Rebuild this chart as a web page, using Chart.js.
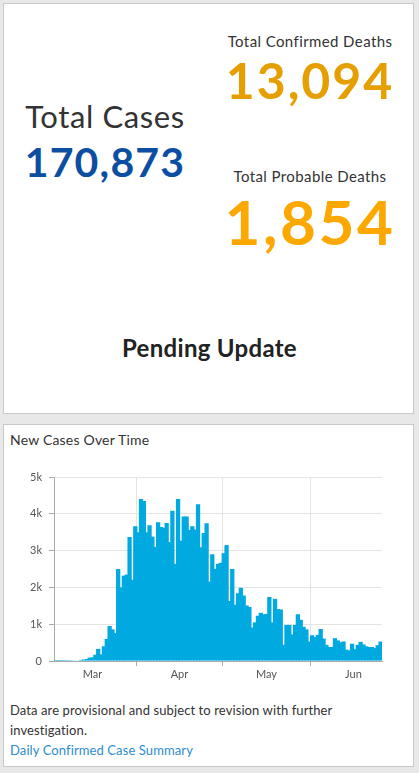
<!DOCTYPE html>
<html>
<head>
<meta charset="utf-8">
<script src="https://cdn.jsdelivr.net/npm/chart.js@4.4.0/dist/chart.umd.min.js"></script>
<style>
  html, body { margin: 0; padding: 0; }
  body {
    width: 419px; height: 773px; position: relative; overflow: hidden;
    background: #e8e8e8; font-family: Lato, "Noto Sans", sans-serif; color: #333;
  }
  .panel { position: absolute; background: #fff; border: 1px solid #c9c9c9; box-sizing: border-box; }
  .txt { position: absolute; line-height: 1; white-space: nowrap; }
  .col-l { left: 5px; width: 200px; text-align: center; }
  .col-r { left: 210px; width: 200px; text-align: center; }
  #chartBox { position: absolute; left: 4px; top: 455px; }
  .footer { position: absolute; left: 10px; top: 700px; font-size: 13px; line-height: 20px; color: #333; letter-spacing: 0.1px; }
  .footer a { color: #2d8ccf; text-decoration: none; }
</style>
</head>
<body>
<div class="panel" style="left:3px;top:3px;width:411px;height:411px;"></div>
<div class="txt col-r" style="top:34px;font-size:15px;letter-spacing:0.4px;color:#333;">Total Confirmed Deaths</div>
<div class="txt col-r" style="top:55px;font-size:50px;font-weight:700;letter-spacing:2px;color:#e69f00;">13,094</div>
<div class="txt col-l" style="top:101px;font-size:31px;font-weight:400;letter-spacing:0.6px;color:#333;">Total Cases</div>
<div class="txt col-l" style="top:141px;font-size:41px;font-weight:700;letter-spacing:1.2px;color:#0b4ea2;">170,873</div>
<div class="txt col-r" style="top:169px;font-size:15px;letter-spacing:0.4px;color:#333;">Total Probable Deaths</div>
<div class="txt col-r" style="top:190px;font-size:62px;font-weight:700;letter-spacing:2.5px;color:#fca800;">1,854</div>
<div class="txt" style="left:5px;width:409px;text-align:center;top:336px;font-size:24px;font-weight:700;letter-spacing:0.3px;color:#222;">Pending Update</div>

<div class="panel" style="left:3px;top:424px;width:411px;height:343px;"></div>
<div class="txt" style="left:10px;top:433px;font-size:14px;letter-spacing:0.2px;color:#333;">New Cases Over Time</div>
<div id="chartBox"><canvas id="casesChart" width="406" height="235"></canvas></div>
<div class="footer">Data are provisional and subject to revision with further<br>investigation.<br><a href="#">Daily Confirmed Case Summary</a></div>

<script>
// daily new cases, one bar per day starting on startDate
const startDate = '2020-03-03';
const newCases = [
  1, 1, 2, 3, 4, 6, 8, 11, 15,
  30, 40, 55, 90, 100,
  170, 330, 180, 400, 600, 950, 860, 760,
  2500, 2000, 2320, 2350, 3370, 2210, 3660, 3500,
  4400, 4350, 3500, 3690, 3380, 3100, 3770, 3640, 3620, 3750,
  3230, 4080, 2640, 4400, 3270, 3930, 3930, 3560, 3660, 3570,
  4260, 3090, 3480, 3740, 2160, 2900, 2500, 2640, 2670, 2930,
  3150, 1630, 2500, 1530, 1840, 1990, 1780, 1510, 1470, 910,
  1050, 1230, 1310, 1270, 1280, 1740, 1050, 1690, 1410, 1400,
  440, 980, 980, 720, 980, 1270, 1120, 930, 860, 530,
  700, 650, 710, 870, 610, 440, 380, 380, 620, 560,
  510, 530, 310, 290, 470, 320, 440, 520, 450, 400,
  380, 380, 350, 430, 530
];
const monthNames = ['Mar', 'Apr', 'May', 'Jun'];
const monthNums = [2, 3, 4, 5]; // JS month index
const yTickValues = [0, 1000, 2000, 3000, 4000, 5000];

const DAY = 86400000;
const t0 = Date.parse(startDate + 'T00:00:00Z');

// day index of the start of a month (bar i is centred on i)
function monthStart(m) {
  return (Date.UTC(2020, m, 1) - t0) / DAY - 0.5;
}

function buildMonthTicks() {
  const ticks = [];
  monthNums.forEach((m, k) => {
    const s = monthStart(m);
    const e = monthStart(m + 1);
    if (k > 0) ticks.push({ value: s, grid: true });
    ticks.push({ value: (s + e) / 2, label: monthNames[k] });
  });
  return ticks;
}

function initChart() {
  const ctx = document.getElementById('casesChart').getContext('2d');
  const points = newCases.map((v, i) => ({ x: i, y: v }));
  const monthTicks = buildMonthTicks();
  Chart.defaults.font.family = 'Lato, "Noto Sans", sans-serif';
  Chart.defaults.font.size = 11;
  Chart.defaults.color = '#555';

  new Chart(ctx, {
    type: 'bar',
    data: {
      datasets: [{
        data: points,
        backgroundColor: '#00a9e0',
        borderWidth: 0,
        barPercentage: 1.5,
        categoryPercentage: 1,
      }],
    },
    options: {
      responsive: false,
      animation: false,
      devicePixelRatio: 1,
      layout: { padding: { top: 22, right: 28, left: 0, bottom: 0 } },
      plugins: { legend: { display: false }, tooltip: { enabled: false } },
      scales: {
        x: {
          type: 'linear',
          min: -0.5,
          max: newCases.length - 0.5,
          offset: false,
          afterBuildTicks: (scale) => {
            scale.ticks = monthTicks.map((t) => ({ value: t.value, label: t.label || '' }));
          },
          afterFit: (scale) => { scale.height = 29; },
          ticks: {
            autoSkip: false,
            maxRotation: 0,
            padding: 2,
            callback: function (value, index) {
              return monthTicks[index] ? (monthTicks[index].label || '') : '';
            },
          },
          grid: {
            offset: false,
            tickLength: 5,
            color: (c) => (c.tick && monthTicks[c.index] && monthTicks[c.index].grid ? '#e4e4e4' : 'rgba(0,0,0,0)'),
            tickColor: (c) => (c.tick && monthTicks[c.index] && monthTicks[c.index].grid ? '#aaa' : 'rgba(0,0,0,0)'),
          },
          border: { color: '#aaa' },
        },
        y: {
          min: 0,
          max: 5000,
          afterBuildTicks: (scale) => {
            scale.ticks = yTickValues.map((v) => ({ value: v }));
          },
          afterFit: (scale) => { scale.width = 50; },
          ticks: {
            padding: 7,
            callback: (v) => (v === 0 ? '0' : v / 1000 + 'k'),
          },
          grid: { color: '#e4e4e4', tickLength: 5, tickColor: '#aaa' },
          border: { color: '#aaa' },
        },
      },
    },
  });
}

initChart();
</script>
</body>
</html>
